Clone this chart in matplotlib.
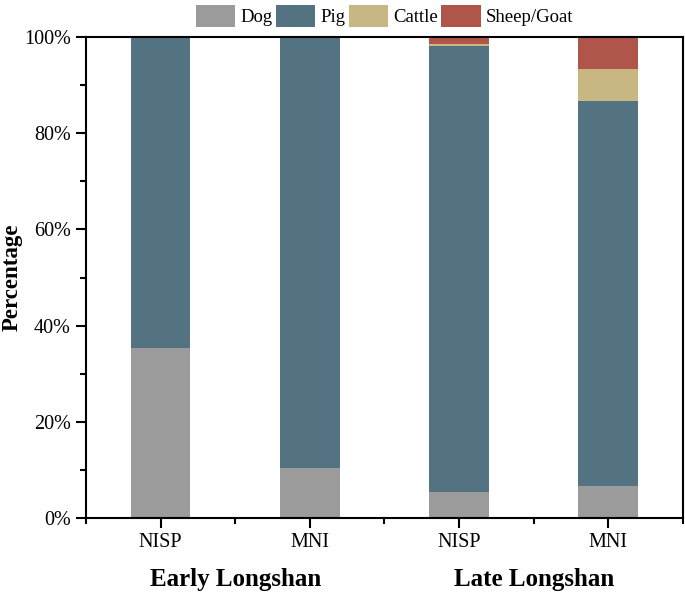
import matplotlib.pyplot as plt
import numpy as np
from matplotlib.ticker import MultipleLocator, PercentFormatter

plt.rcParams['font.family'] = ['Liberation Serif', 'DejaVu Serif']

# Percentages
categories = ['NISP', 'MNI', 'NISP', 'MNI']
groups = ['Early Longshan', 'Late Longshan']
dog = [35.3, 10.4, 5.4, 6.67]
pig = [64.7, 89.6, 92.7, 80.0]
cattle = [0.0, 0.0, 0.4, 6.66]
sheep = [0.0, 0.0, 1.5, 6.67]

series = [('Dog', dog, '#9b9b9b'), ('Pig', pig, '#537383'),
          ('Cattle', cattle, '#c9b783'), ('Sheep/Goat', sheep, '#b0554a')]

fig = plt.figure(figsize=(6.85, 5.95), dpi=100)
ax = fig.add_axes([0.1255, 0.1294, 0.8715, 0.8084])

x = np.arange(1, len(categories) + 1)
bottom = np.zeros(len(categories))
for name, vals, color in series:
    vals = np.array(vals)
    ax.bar(x, vals, width=0.4, bottom=bottom, color=color, label=name)
    bottom += vals

ax.set_xlim(0.5, 4.5)
ax.set_ylim(0, 100)
ax.set_xticks(x)
ax.set_xticklabels(categories, fontsize=14.5)
ax.xaxis.set_minor_locator(MultipleLocator(0.5))
ax.yaxis.set_major_locator(MultipleLocator(20))
ax.yaxis.set_minor_locator(MultipleLocator(10))
ax.yaxis.set_major_formatter(PercentFormatter(decimals=0))
ax.tick_params(axis='y', labelsize=14.5)
ax.tick_params(which='major', direction='out', length=7, width=1.5, pad=4)
ax.tick_params(which='minor', direction='out', length=4, width=1.5)
for s in ax.spines.values():
    s.set_linewidth(1.5)

ax.set_ylabel('Percentage', fontsize=16.5, fontweight='bold')
ax.yaxis.set_label_coords(-0.106, 0.5)

ax.text(1.5, -0.128, groups[0], transform=ax.get_xaxis_transform(),
        ha='center', va='center', fontsize=18, fontweight='bold')
ax.text(3.5, -0.128, groups[1], transform=ax.get_xaxis_transform(),
        ha='center', va='center', fontsize=18, fontweight='bold')

ax.legend(loc='lower center', bbox_to_anchor=(0.5, 1.016), ncol=4, frameon=False,
          fontsize=13.5, handlelength=2.1, handleheight=1.5, handletextpad=0.25,
          columnspacing=0.2, borderaxespad=0.0, borderpad=0.1)

fig.savefig('out.png', dpi=100)
